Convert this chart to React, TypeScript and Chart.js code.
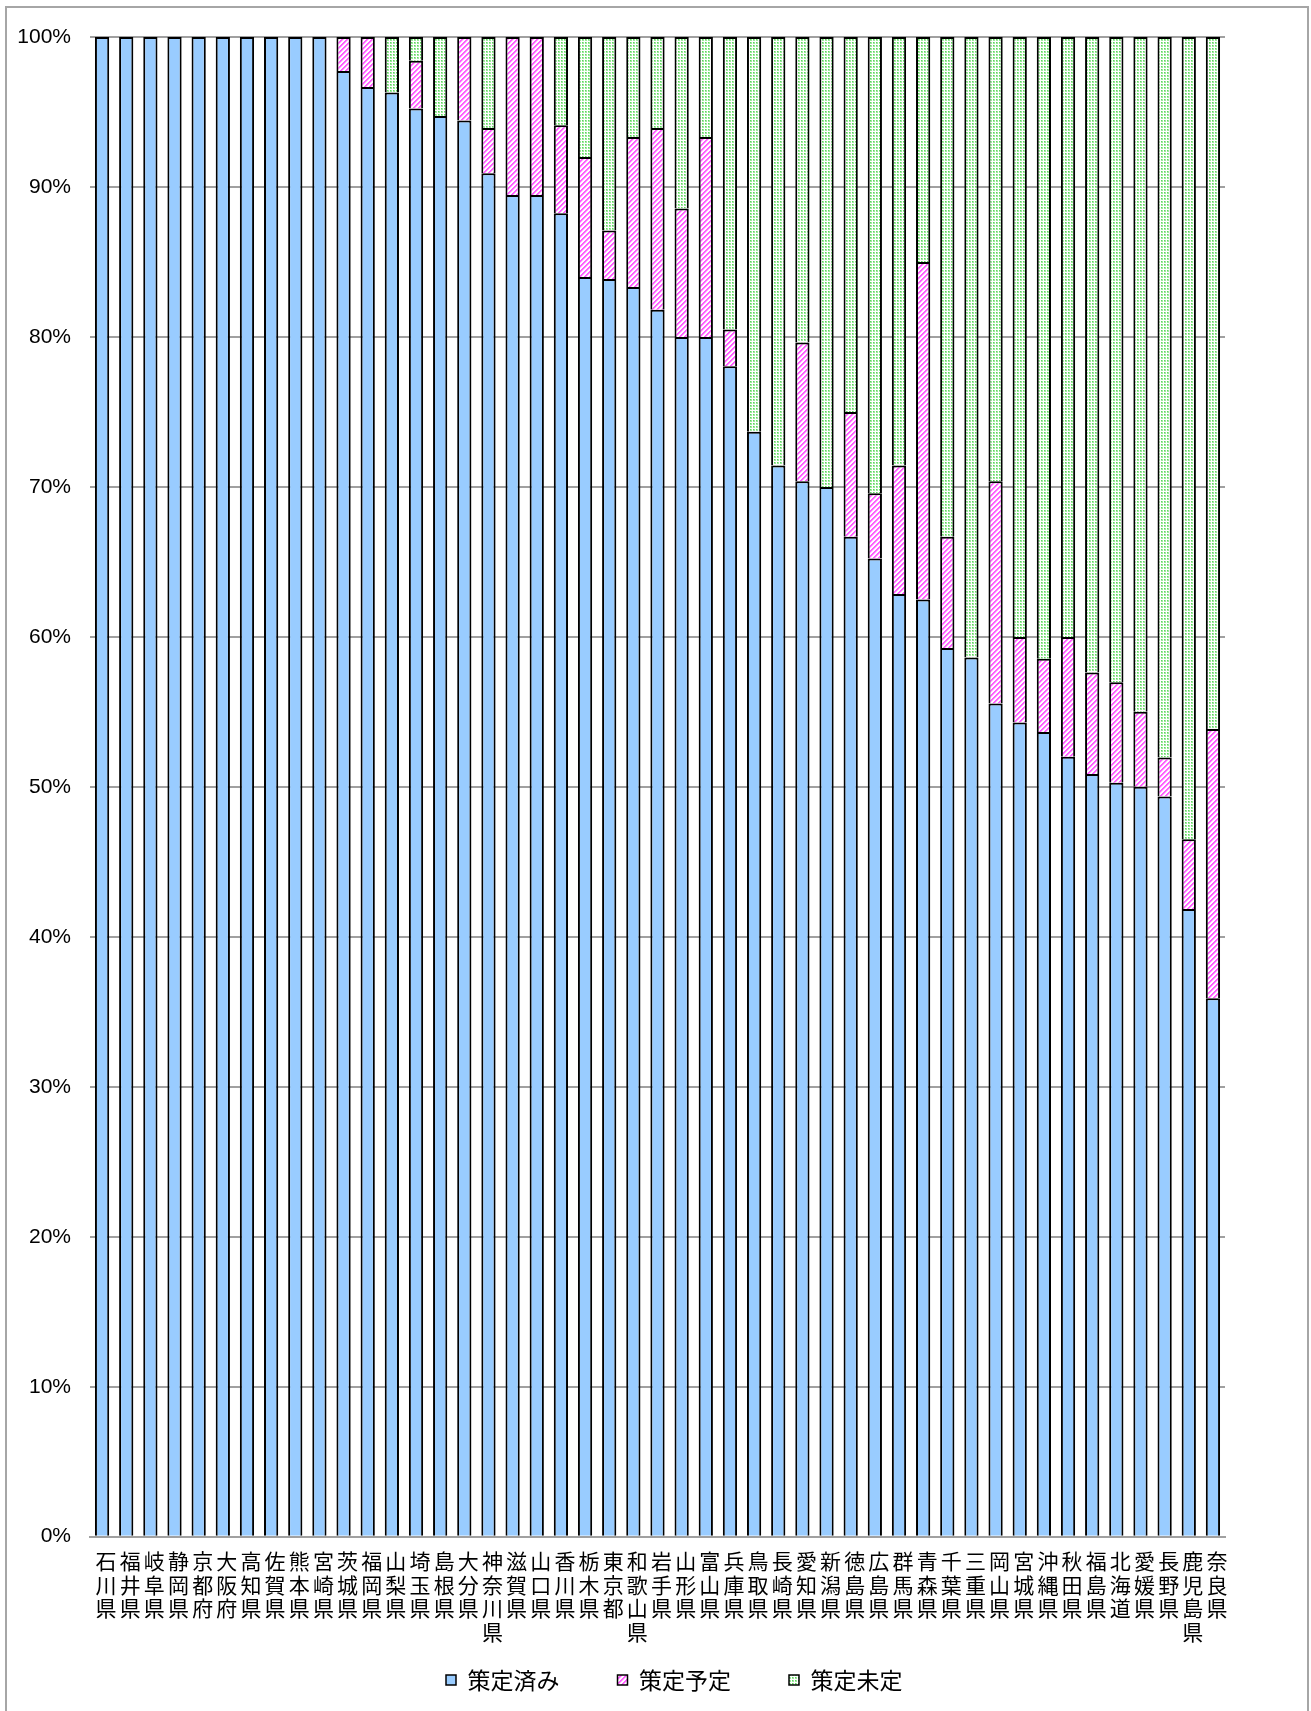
import { useEffect, useRef } from 'react';
import { Chart, registerables } from 'chart.js';

Chart.register(...registerables);

// ---- data ----
const prefectures = [
  '石川県', '福井県', '岐阜県', '静岡県', '京都府', '大阪府', '高知県', '佐賀県', '熊本県', '宮崎県',
  '茨城県', '福岡県', '山梨県', '埼玉県', '島根県', '大分県', '神奈川県', '滋賀県', '山口県', '香川県',
  '栃木県', '東京都', '和歌山県', '岩手県', '山形県', '富山県', '兵庫県', '鳥取県', '長崎県', '愛知県',
  '新潟県', '徳島県', '広島県', '群馬県', '青森県', '千葉県', '三重県', '岡山県', '宮城県', '沖縄県',
  '秋田県', '福島県', '北海道', '愛媛県', '長野県', '鹿児島県', '奈良県',
];

const seriesNames = ['策定済み', '策定予定', '策定未定'];

const done = [
  100, 100, 100, 100, 100, 100, 100, 100, 100, 100,
  97.73, 96.67, 96.3, 95.24, 94.74, 94.44, 90.91, 89.47, 89.47, 88.24,
  84.0, 83.87, 83.33, 81.82, 80.0, 80.0, 78.05, 73.68, 71.43, 70.37,
  70.0, 66.67, 65.22, 62.86, 62.5, 59.26, 58.62, 55.56, 54.29, 53.66,
  52.0, 50.85, 50.28, 50.0, 49.35, 41.86, 35.9,
];

const planned = [
  0, 0, 0, 0, 0, 0, 0, 0, 0, 0,
  2.27, 3.33, 0, 3.17, 0, 5.56, 3.03, 10.53, 10.53, 5.88,
  8.0, 3.23, 10.0, 12.12, 8.57, 13.33, 2.44, 0, 0, 9.26,
  0, 8.33, 4.35, 8.57, 22.5, 7.41, 0, 14.81, 5.71, 4.88,
  8.0, 6.78, 6.7, 5.0, 2.6, 4.65, 17.95,
];

const undecided = [
  0, 0, 0, 0, 0, 0, 0, 0, 0, 0,
  0, 0, 3.7, 1.59, 5.26, 0, 6.06, 0, 0, 5.88,
  8.0, 12.9, 6.67, 6.06, 11.43, 6.67, 19.51, 26.32, 28.57, 20.37,
  30.0, 25.0, 30.43, 28.57, 15.0, 33.33, 41.38, 29.63, 40.0, 41.46,
  40.0, 42.37, 43.02, 45.0, 48.05, 53.49, 46.15,
];

const yMin = 0;
const yMax = 100;
const yStep = 10;

// ---- styles ----
const W = 1311;
const H = 1711;
const JP = '"Noto Sans CJK JP", "Noto Sans", sans-serif';
const LEGEND_FONT = 23;
const LEGEND_PAD = 58;

function makeStripe(): CanvasPattern | string {
  const s = 5;
  const c = document.createElement('canvas');
  c.width = s;
  c.height = s;
  const g = c.getContext('2d');
  if (!g) return '#ff66ff';
  const img = g.createImageData(s, s);
  for (let y = 0; y < s; y++) {
    for (let x = 0; x < s; x++) {
      const k = (x + y) % s;
      const i = (y * s + x) * 4;
      let gch = 255;
      if (k < 2) gch = 95;
      else if (k === 2) gch = 185;
      img.data[i] = 255;
      img.data[i + 1] = gch;
      img.data[i + 2] = 255;
      img.data[i + 3] = 255;
    }
  }
  g.putImageData(img, 0, 0);
  return g.createPattern(c, 'repeat') || '#ff66ff';
}

function makeDots(): CanvasPattern | string {
  const s = 3;
  const c = document.createElement('canvas');
  c.width = s;
  c.height = s;
  const g = c.getContext('2d');
  if (!g) return '#99ee99';
  g.fillStyle = '#ffffff';
  g.fillRect(0, 0, s, s);
  g.fillStyle = '#9de89d';
  g.fillRect(0, 0, 2, 2);
  g.fillStyle = '#5cd85c';
  g.fillRect(0, 0, 1, 1);
  return g.createPattern(c, 'repeat') || '#99ee99';
}

export default function App() {
  const ref = useRef<HTMLCanvasElement | null>(null);

  useEffect(() => {
    document.body.style.margin = '0';
    const canvas = ref.current;
    if (!canvas) return;

    const segBorder = { top: 2, left: 2, right: 2, bottom: 0 };

    const framePlugin = {
      id: 'frame',
      afterLayout(chart: any) {
        const lg = chart.legend;
        if (lg) {
          const h = lg.height;
          lg.top = 1680 - LEGEND_PAD - LEGEND_FONT / 2;
          lg.bottom = lg.top + h;
          lg.left = 446 - LEGEND_PAD;
          lg.right = lg.left + 900;
        }
        const xs = chart.scales.x;
        if (xs) xs.bottom = 1705;
      },
      afterDraw(chart: any) {
        const ctx = chart.ctx;
        ctx.save();
        ctx.strokeStyle = '#a6a6a6';
        ctx.lineWidth = 2;
        ctx.strokeRect(6, 7, 1302, 1720);
        ctx.restore();
      },
    };

    const chart = new Chart(canvas, {
      type: 'bar',
      data: {
        labels: prefectures.map((p) => p.split('')),
        datasets: [
          {
            label: seriesNames[0],
            data: done,
            backgroundColor: '#99ccff',
            borderColor: '#000000',
            borderWidth: segBorder,
            borderSkipped: false,
          },
          {
            label: seriesNames[1],
            data: planned,
            backgroundColor: makeStripe(),
            borderColor: '#000000',
            borderWidth: segBorder,
            borderSkipped: false,
          },
          {
            label: seriesNames[2],
            data: undecided,
            backgroundColor: makeDots(),
            borderColor: '#000000',
            borderWidth: segBorder,
            borderSkipped: false,
          },
        ],
      } as any,
      options: {
        responsive: false,
        animation: false,
        devicePixelRatio: 1,
        layout: { padding: { left: 0, right: 86, top: 37, bottom: 10 } },
        datasets: {
          bar: { categoryPercentage: 1, barPercentage: 0.59 },
        } as any,
        scales: {
          x: {
            stacked: true,
            grid: { display: false },
            border: { display: true, color: '#a0a0a0', width: 2 },
            ticks: {
              color: '#000000',
              autoSkip: false,
              maxRotation: 0,
              minRotation: 0,
              padding: 5,
              labelOffset: 4,
              font: { family: JP, size: 21, lineHeight: 1.12 },
            },
            afterFit: (axis: any) => {
              axis.height = 1711 - 10 - (LEGEND_FONT + LEGEND_PAD + 10) - 1536.7;
            },
          },
          y: {
            stacked: true,
            min: yMin,
            max: yMax,
            grid: { color: '#a0a0a0', lineWidth: 2, drawTicks: false },
            border: { display: false },
            ticks: {
              stepSize: yStep,
              color: '#000000',
              padding: 19,
              font: { family: '"Liberation Sans Narrow", "Liberation Sans", sans-serif', size: 21 },
              callback: (v: any) => `${v}%`,
            },
            afterFit: (axis: any) => {
              axis.width = 90;
            },
          },
        },
        plugins: {
          legend: {
            position: 'bottom',
            align: 'start',
            labels: {
              boxWidth: 10,
              boxHeight: 10,
              padding: LEGEND_PAD,
              color: '#000000',
              font: { family: JP, size: LEGEND_FONT },
            },
          },
          tooltip: { enabled: false },
        },
      } as any,
      plugins: [framePlugin as any],
    });

    return () => chart.destroy();
  }, []);

  return (
    <div style={{ position: 'relative', width: W, height: H }}>
      <canvas ref={ref} width={W} height={H} style={{ display: 'block', width: W, height: H }} />
    </div>
  );
}
